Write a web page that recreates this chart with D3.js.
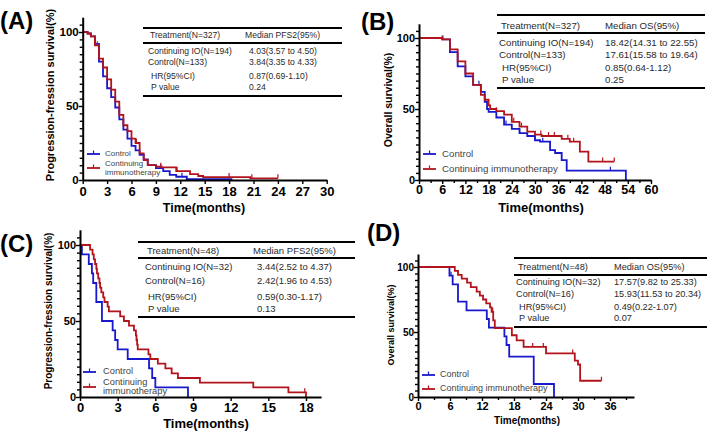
<!DOCTYPE html>
<html>
<head>
<meta charset="utf-8">
<script src="https://cdn.jsdelivr.net/npm/d3@7"></script>
<style>
  body { margin: 0; background: #fff; }
  svg { display: block; font-family: Arial, "Liberation Sans", sans-serif; }
</style>
</head>
<body>
<svg id="svg" width="709" height="434"></svg>
<script>
// DATA //

// (A) PFS2, all patients: [month, survival %]
const pfsAllIO = [[0,100],[0.6,99],[1,97],[1.5,91],[2,82],[2.5,76],[3,68],[3.5,61],[4,53],[4.5,44],[5,37],[5.5,33],[6,28],[6.5,25],[7,18],[7.5,13.5],[8,10],[9,9],[9.7,8.5],[11.5,6],[13.2,4],[14.2,2.7],[14.8,2],[20.6,1.1],[24,1.1]];
const pfsAllCtrl = [[0,100],[0.6,99],[1,97],[1.5,92],[2,80],[2.5,70],[3,62],[3.5,56],[4,49],[4.5,41],[5,34],[5.5,28],[6,23],[6.5,20],[7,17],[7.5,14],[8,10],[9,8],[9.9,6],[10.7,3.4],[11.5,2.2],[12.8,0.5],[18.4,0.5]];
const pfsAllIOCens = [1.8, 6.6, 9.6, 11.6, 18, 20.8, 24];
const pfsAllCtrlCens = [1.5, 9.6, 12.2];

// (B) OS, all patients
const osAllIO = [[0,100],[5.5,100],[6,99],[8,92],[10,83.5],[12,75],[14,67],[16,60],[17,56.5],[18,52.5],[18.4,50],[20,48.5],[22,46],[24,41],[26,37.6],[28,34],[30,32],[31.7,31],[36.9,29],[39,27],[41.6,20],[43.8,13],[50.5,13]];
const osAllCtrl = [[0,100],[5.5,100],[6,99],[8,90],[10,80],[12,73],[14,67],[16,62],[17,55],[17.6,50],[18,48],[20,44],[22,39],[24,36],[26,33],[28,31],[30,28],[31.3,27],[33.9,21],[35.2,19],[36.9,14],[38.2,6.6],[53.5,6.6],[53.5,0]];
const osAllIOCens = [6.2, 20, 24.5, 26.5, 31.5, 33.5, 35, 38.5, 40, 47.5, 50.5];
const osAllCtrlCens = [6, 15.5, 22.5, 26, 30, 32, 49.5];

// (C) PFS2, subgroup
const pfsSubIO = [[0,100],[0.8,96.9],[1.0,93.8],[1.1,90.6],[1.2,87.5],[1.3,84.4],[1.35,81.3],[1.45,78.1],[1.55,75],[1.6,71.9],[1.7,68.8],[1.85,65.6],[1.95,62.5],[2.2,59.4],[2.3,56.3],[3.2,53.1],[3.5,50],[3.9,46.9],[4.3,43.8],[4.45,40.6],[4.5,37.5],[4.55,34.4],[4.6,31.3],[5.45,28.1],[5.6,25],[6.2,21.9],[6.8,18.8],[7.3,15.6],[7.8,12.5],[9.55,9.4],[13.8,6.3],[16.6,3.1],[18,3.1],[18,0]];
const pfsSubCtrl = [[0,100],[0.15,93.8],[0.7,87.5],[0.95,81.3],[1.05,75],[1.3,62.5],[1.75,50],[2.6,43.8],[2.8,37.5],[3.0,31.3],[3.8,25],[5.5,18.8],[5.75,12.5],[6.0,6.3],[8.6,6.3],[8.6,0]];
const pfsSubIOCens = [17.9];
const pfsSubCtrlCens = [];

// (D) OS, subgroup
const osSubIO = [[0,100],[6.9,97],[7.5,94],[8.2,91],[9.2,88],[9.9,84.5],[11,81],[11.6,78],[12.2,75],[12.8,72],[13.5,69],[13.8,65.5],[14.1,59],[14.4,53],[17.6,47.5],[18.5,43.5],[19.8,38.5],[24,33.5],[29.4,28],[30,25],[30.4,12.5],[34.4,12.5]];
const osSubCtrl = [[0,100],[5.9,93.3],[6.5,86.7],[7.5,73.3],[9.1,66.7],[12.9,60],[13.3,53.3],[16.2,46.7],[16.6,40],[17.1,31],[21.7,10],[25.5,10],[25.5,0]];
const osSubIOCens = [14, 21.5, 23.5, 29, 34.4];
const osSubCtrlCens = [6.2];

// Tables
const tableAHead = ["Treatment(N=327)", "Median PFS2(95%)"];
const tableARows = [["Continuing IO(N=194)", "4.03(3.57 to 4.50)"], ["Control(N=133)", "3.84(3.35 to 4.33)"], ["HR(95%CI)", "0.87(0.69-1.10)"], ["P value", "0.24"]];
const tableBHead = ["Treatment(N=327)", "Median OS(95%)"];
const tableBRows = [["Continuing IO(N=194)", "18.42(14.31 to 22.55)"], ["Control(N=133)", "17.61(15.58 to 19.64)"], ["HR(95%CI)", "0.85(0.64-1.12)"], ["P value", "0.25"]];
const tableCHead = ["Treatment(N=48)", "Median PFS2(95%)"];
const tableCRows = [["Continuing IO(N=32)", "3.44(2.52 to 4.37)"], ["Control(N=16)", "2.42(1.96 to 4.53)"], ["HR(95%CI)", "0.59(0.30-1.17)"], ["P value", "0.13"]];
const tableDHead = ["Treatment(N=48)", "Median OS(95%)"];
const tableDRows = [["Continuing IO(N=32)", "17.57(9.82 to 25.33)"], ["Control(N=16)", "15.93(11.53 to 20.34)"], ["HR(95%CI)", "0.49(0.22-1.07)"], ["P value", "0.07"]];

// Axis ticks
const xTicksA = d3.range(0, 31, 3);
const xTicksB = d3.range(0, 61, 6);
const xMinorB = d3.range(3, 60, 6);
const xTicksC = d3.range(0, 19, 3);
const xTicksD = d3.range(0, 37, 6);
const xMinorD = d3.range(3, 40, 6);
const yTicks = [0, 50, 100];
const yMinor = d3.range(5, 110, 5).filter(d => d % 50 !== 0);

const labels = ["(A)", "(B)", "(C)", "(D)"];
const legendNames = ["Control", "Continuing immunotherapy"];

// COLORS
const RED = "#b3141c";
const BLUE = "#1818cc";
const TXT = "#2a2a2a";

const svg = d3.select("#svg");

// Panel layouts
const panels = [
  {
    label: labels[0], labelX: 0, labelY: 29,
    left: 82.7, x0Max: 30, xPix: 326.7, xEnd: 30, bottom: 180, top: 32,
    xTicks: xTicksA, xMinor: [], xFs: 13, yFs: 11.5, xPad: 3,
    yTitle: "Progression-fression survival(%)", yTitleX: 51, yTitleY: 95, yTitleFs: 11,
    xTitleX: 204, xTitleY: 212, xTitleFs: 12.5,
    io: pfsAllIO, ctrl: pfsAllCtrl, ioC: pfsAllIOCens, ctrlC: pfsAllCtrlCens,
    leg: {x: 87, y1: 154, y2: 168, fs: 8, split: true, tx: 105},
    tab: {head: tableAHead, rows: tableARows, x1: 143, x2: 342, top: 28, mid: 43, bot: 96,
          headY: 36, rowY: [52, 63, 77, 88], c1: 148, c2h: 245, c2: 249, fs: 8.6}
  },
  {
    label: labels[1], labelX: 361, labelY: 30,
    left: 419, x0Max: 60, xPix: 651, xEnd: 60, bottom: 180, top: 38,
    xTicks: xTicksB, xMinor: xMinorB, xFs: 12.5, yFs: 11, xPad: 1,
    yTitle: "Overall survival(%)", yTitleX: 389, yTitleY: 100, yTitleFs: 10.5,
    xTitleX: 541, xTitleY: 212, xTitleFs: 13,
    io: osAllIO, ctrl: osAllCtrl, ioC: osAllIOCens, ctrlC: osAllCtrlCens,
    leg: {x: 423, y1: 154, y2: 169, fs: 9.7, split: false, tx: 442},
    tab: {head: tableBHead, rows: tableBRows, x1: 497, x2: 705, top: 15, mid: 33, bot: 88,
          headY: 26, rowY: [43, 55, 68, 80], c1: 499, c2h: 605, c2: 605, fs: 9.7}
  },
  {
    label: labels[2], labelX: 0, labelY: 252,
    left: 80, x0Max: 18, xPix: 306, xEnd: 19.2, bottom: 397, top: 245,
    xTicks: xTicksC, xMinor: [], xFs: 13, yFs: 11, xPad: 2,
    yTitle: "Progression-fression survival(%)", yTitleX: 49, yTitleY: 311, yTitleFs: 10,
    xTitleX: 206, xTitleY: 428, xTitleFs: 13,
    io: pfsSubIO, ctrl: pfsSubCtrl, ioC: pfsSubIOCens, ctrlC: pfsSubCtrlCens,
    leg: {x: 83, y1: 372, y2: 387, fs: 9.3, split: true, tx: 103},
    tab: {head: tableCHead, rows: tableCRows, x1: 138, x2: 355, top: 242, mid: 258, bot: 317,
          headY: 251, rowY: [267, 281, 297, 309], c1: 145, c2h: 253, c2: 257, fs: 9.5}
  },
  {
    label: labels[3], labelX: 367, labelY: 241,
    left: 418, x0Max: 36, xPix: 610, xEnd: 40.5, bottom: 397, top: 267,
    xTicks: xTicksD, xMinor: xMinorD, xFs: 11, yFs: 10, xPad: 1,
    yTitle: "Overall survival(%)", yTitleX: 392, yTitleY: 325, yTitleFs: 9,
    xTitleX: 527, xTitleY: 424, xTitleFs: 10,
    io: osSubIO, ctrl: osSubCtrl, ioC: osSubIOCens, ctrlC: osSubCtrlCens,
    leg: {x: 422, y1: 375, y2: 389, fs: 9, split: false, tx: 440},
    tab: {head: tableDHead, rows: tableDRows, x1: 514, x2: 707, top: 258, mid: 275, bot: 327,
          headY: 268, rowY: [283, 295, 308, 319], c1: 516, c2h: 614, c2: 614, fs: 9.2}
  }
];

// Survival value at time t (step function)
function survAt(pts, t) {
  let s = pts[0][1];
  for (const p of pts) { if (p[0] <= t) s = p[1]; }
  return s;
}

function drawPanel(p) {
  const g = svg.append("g");
  const pxPerX = (p.xPix - p.left) / p.x0Max;
  const x = d3.scaleLinear().domain([0, p.xEnd]).range([p.left, p.left + pxPerX * p.xEnd]);
  const pxPerY = (p.bottom - p.top) / 100;
  const y = d3.scaleLinear().domain([0, 110]).range([p.bottom, p.bottom - pxPerY * 110]);

  // Panel label
  g.append("text")
    .attr("x", p.labelX).attr("y", p.labelY)
    .style("font-size", "24px").style("font-weight", "bold")
    .text(p.label);

  // Curves
  const line = d3.line().x(d => x(d[0])).y(d => y(d[1])).curve(d3.curveStepAfter);
  [[p.ctrl, p.ctrlC, BLUE], [p.io, p.ioC, RED]].forEach(([pts, cens, col]) => {
    g.append("path")
      .attr("d", line(pts))
      .attr("fill", "none")
      .attr("stroke", col)
      .attr("stroke-width", 1.8);
    g.selectAll(null)
      .data(cens)
      .enter()
      .append("line")
      .attr("x1", d => x(d)).attr("x2", d => x(d))
      .attr("y1", d => y(survAt(pts, d)))
      .attr("y2", d => y(survAt(pts, d)) - 4)
      .attr("stroke", col)
      .attr("stroke-width", 1.2);
  });

  // X axis
  const xAxis = g.append("g")
    .attr("transform", `translate(0,${p.bottom})`)
    .call(d3.axisBottom(x).tickValues(p.xTicks).tickSize(4).tickSizeOuter(0).tickPadding(p.xPad).tickFormat(d3.format("d")));
  xAxis.selectAll("text").style("font-size", p.xFs + "px").style("font-weight", "bold").attr("fill", "#000");
  g.append("g")
    .attr("transform", `translate(0,${p.bottom})`)
    .call(d3.axisBottom(x).tickValues(p.xMinor).tickSize(3).tickFormat(""))
    .select(".domain").remove();

  // Y axis
  const yAxis = g.append("g")
    .attr("transform", `translate(${p.left},0)`)
    .call(d3.axisLeft(y).tickValues(yTicks).tickSize(4).tickSizeOuter(0).tickPadding(0));
  yAxis.selectAll("text").style("font-size", p.yFs + "px").style("font-weight", "bold").attr("fill", "#000");
  g.append("g")
    .attr("transform", `translate(${p.left},0)`)
    .call(d3.axisLeft(y).tickValues(yMinor).tickSize(3).tickFormat(""))
    .select(".domain").remove();

  g.selectAll(".domain").attr("stroke", "#000").attr("stroke-width", 2);
  g.selectAll(".tick line").attr("stroke", "#000").attr("stroke-width", 1.4);

  // Axis titles
  g.append("text")
    .attr("transform", `translate(${p.yTitleX},${p.yTitleY}) rotate(-90)`)
    .attr("text-anchor", "middle").attr("dominant-baseline", "middle")
    .style("font-size", p.yTitleFs + "px").style("font-weight", "bold")
    .text(p.yTitle);
  g.append("text")
    .attr("x", p.xTitleX).attr("y", p.xTitleY)
    .attr("text-anchor", "middle")
    .style("font-size", p.xTitleFs + "px").style("font-weight", "bold")
    .text("Time(months)");

  // Legend
  const L = p.leg;
  [[L.y1, BLUE], [L.y2, RED]].forEach(([ly, col]) => {
    g.append("line").attr("x1", L.x).attr("x2", L.x + 13).attr("y1", ly).attr("y2", ly)
      .attr("stroke", col).attr("stroke-width", 1.8);
    g.append("line").attr("x1", L.x + 6.5).attr("x2", L.x + 6.5).attr("y1", ly).attr("y2", ly - 3.5)
      .attr("stroke", col).attr("stroke-width", 1.2);
  });
  const legText = g.append("g").style("font-size", L.fs + "px").attr("fill", "#444");
  legText.append("text").attr("x", L.tx).attr("y", L.y1).attr("dominant-baseline", "middle").text(legendNames[0]);
  if (L.split) {
    const parts = legendNames[1].split(" ");
    legText.append("text").attr("x", L.tx).attr("y", L.y2 - 4.5).attr("dominant-baseline", "middle").text(parts[0]);
    legText.append("text").attr("x", L.tx).attr("y", L.y2 + 5).attr("dominant-baseline", "middle").text(parts[1]);
  } else {
    legText.append("text").attr("x", L.tx).attr("y", L.y2).attr("dominant-baseline", "middle").text(legendNames[1]);
  }

  // Table
  const T = p.tab;
  [T.top, T.mid, T.bot].forEach(ly => {
    g.append("line").attr("x1", T.x1).attr("x2", T.x2).attr("y1", ly).attr("y2", ly)
      .attr("stroke", "#000").attr("stroke-width", 1.8);
  });
  const tg = g.append("g").style("font-size", T.fs + "px").attr("fill", TXT);
  tg.append("text").attr("x", T.c1 + 2).attr("y", T.headY).attr("dominant-baseline", "middle").text(T.head[0]);
  tg.append("text").attr("x", T.c2h).attr("y", T.headY).attr("dominant-baseline", "middle").text(T.head[1]);
  T.rows.forEach((r, i) => {
    tg.append("text").attr("x", T.c1 + (i >= 2 ? 3 : 0)).attr("y", T.rowY[i])
      .attr("dominant-baseline", "middle").text(r[0]);
    tg.append("text").attr("x", T.c2).attr("y", T.rowY[i])
      .attr("dominant-baseline", "middle").text(r[1]);
  });
}

panels.forEach(drawPanel);
</script>
</body>
</html>
